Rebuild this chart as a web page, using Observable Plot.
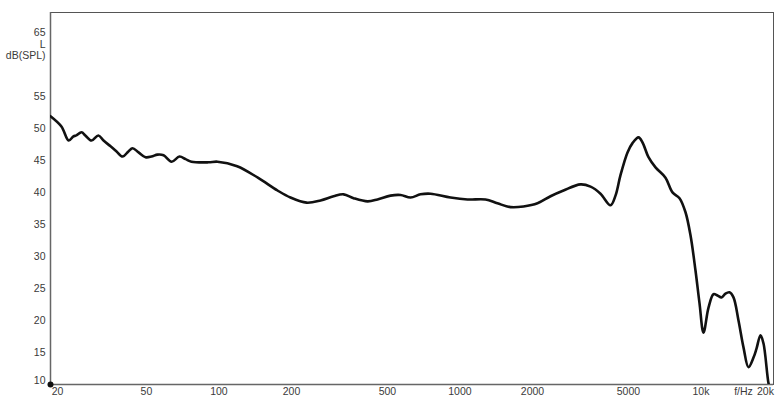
<!DOCTYPE html>
<html>
<head>
<meta charset="utf-8">
<script src="https://cdn.jsdelivr.net/npm/d3@7"></script>
<script src="https://cdn.jsdelivr.net/npm/@observablehq/plot@0.6"></script>
<style>
  html, body { margin: 0; padding: 0; background: #fff; }
  #chart svg { display: block; }
</style>
</head>
<body>
<div id="chart"></div>
<script>
// Frequency (Hz) and level (dB SPL)
const freqHz = [20, 22.2, 23.8, 24.9, 25.6, 26.9, 27.9, 29.6, 31.6, 33.2, 35.5, 37.6, 39.8, 42.1, 43.8, 46.4, 49.6, 52.5, 55.6, 58.9, 63.6, 68.6, 72.7, 76.9, 90.5, 98.6, 119, 145, 175, 198, 231, 264, 299, 329, 362, 414, 455, 515, 567, 624, 686, 755, 914, 1075, 1277, 1431, 1621, 1835, 2098, 2376, 2690, 3164, 3482, 3830, 4214, 4420, 4636, 4958, 5200, 5508, 5722, 6058, 6478, 7126, 7620, 8148, 8628, 9050, 9492, 9862, 10246, 10748, 11272, 11712, 12168, 12642, 13136, 13646, 14314, 15014, 15748, 16520, 17002, 17666, 18180, 19068, 19500];
const levelDb = [51.9, 50.3, 48.1, 48.75, 48.9, 49.4, 48.9, 48.1, 48.9, 48.1, 47.2, 46.4, 45.6, 46.4, 46.9, 46.25, 45.5, 45.6, 45.9, 45.8, 44.8, 45.6, 45.2, 44.8, 44.7, 44.8, 44.1, 42.3, 40.3, 39.2, 38.4, 38.75, 39.4, 39.7, 39.1, 38.6, 38.9, 39.5, 39.6, 39.2, 39.7, 39.8, 39.2, 38.9, 38.9, 38.3, 37.7, 37.8, 38.3, 39.4, 40.3, 41.25, 40.9, 39.8, 38.0, 39.5, 42.7, 46.25, 47.7, 48.6, 47.8, 45.5, 43.9, 42.3, 40.0, 39.1, 36.9, 33.3, 27.8, 22.7, 18.1, 22.0, 24.1, 23.9, 23.6, 24.2, 24.4, 23.6, 20.0, 15.8, 12.7, 14.2, 15.6, 17.7, 16.4, 10.2, 8.8];

const yTicks = [15, 20, 25, 30, 35, 40, 45, 50, 55, 65];
const xTicks = [50, 100, 200, 500, 1000, 2000, 5000, 10000];
const xTickLabels = ["50", "100", "200", "500", "1000", "2000", "5000", "10k"];
const yUnitLines = ["L", "dB(SPL)"];
const origin = [{f: 20, db: 10}];

const data = freqHz.map((f, i) => ({f, db: levelDb[i]}));
const xLabelData = xTicks.map((t, i) => ({t, label: xTickLabels[i]}));

const font = "Liberation Sans, Arial, sans-serif";
const textColor = "#3a3a3a";
const fs = 10.5;

const chart = Plot.plot({
  width: 780,
  height: 404,
  marginLeft: 50,
  marginRight: 7,
  marginTop: 12,
  marginBottom: 20,
  style: {fontFamily: font, fontSize: "11px", color: textColor, background: "#fff"},
  x: {type: "log", domain: [20, 20000], axis: null},
  y: {domain: [10, 68.1], axis: null},
  marks: [
    Plot.frame({stroke: "#555", strokeWidth: 1}),
    Plot.ruleX([20], {stroke: "#666", strokeWidth: 1.5}),
    Plot.ruleY([10], {stroke: "#666", strokeWidth: 1.5}),
    // y tick labels
    Plot.text(yTicks, {x: 20, y: d => d, text: d => String(d), textAnchor: "end", dx: -5, fill: textColor, fontSize: fs}),
    Plot.text([10], {x: 20, y: d => d, text: d => String(d), textAnchor: "end", dx: -5, dy: -4, fill: textColor, fontSize: fs}),
    // unit label
    Plot.text([yUnitLines[0]], {frameAnchor: "top-left", text: d => d, textAnchor: "end", dx: -5, dy: 28, fill: textColor, fontSize: fs}),
    Plot.text([yUnitLines[1]], {frameAnchor: "top-left", text: d => d, textAnchor: "end", dx: -5, dy: 39, fill: textColor, fontSize: fs}),
    // x tick labels
    Plot.text(xLabelData, {x: "t", frameAnchor: "bottom", text: "label", dy: 10, fill: textColor, fontSize: fs}),
    Plot.text(["20"], {x: 20, frameAnchor: "bottom", text: d => d, dx: 7, dy: 10, fill: textColor, fontSize: fs}),
    Plot.text(["20k"], {x: 20000, frameAnchor: "bottom", text: d => d, dx: -8, dy: 10, fill: textColor, fontSize: fs}),
    Plot.text(["f/Hz"], {x: 20000, frameAnchor: "bottom", text: d => d, dx: -30, dy: 10, fill: textColor, fontSize: fs}),
    // response curve
    Plot.line(data, {x: "f", y: "db", stroke: "#111", strokeWidth: 2.6, curve: "catmull-rom", clip: true}),
    Plot.dot(origin, {x: "f", y: "db", r: 3, fill: "#111", stroke: "none"})
  ]
});
document.getElementById("chart").appendChild(chart);
</script>
</body>
</html>
